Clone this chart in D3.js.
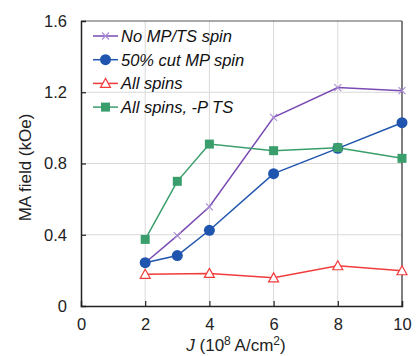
<!DOCTYPE html>
<html>
<head>
<meta charset="utf-8">
<script src="https://cdn.jsdelivr.net/npm/d3@7"></script>
<style>
  html, body { margin: 0; padding: 0; background: #fff; }
  svg { display: block; font-family: "Liberation Sans", Arial, sans-serif; }
</style>
</head>
<body>
<svg id="chart" width="416" height="356"></svg>
<script>
// Current density J (10^8 A/cm^2) at each measured point
const jNoSpin = [2, 3, 4, 6, 8, 10];
const noSpin = [0.243, 0.395, 0.557, 1.059, 1.226, 1.209];

const jHalfCut = [2, 3, 4, 6, 8, 10];
const halfCut = [0.243, 0.283, 0.425, 0.743, 0.885, 1.029];

const jAllSpins = [2, 4, 6, 8, 10];
const allSpins = [0.178, 0.183, 0.158, 0.226, 0.198];

const jAllSpinsP = [2, 3, 4, 6, 8, 10];
const allSpinsP = [0.374, 0.700, 0.909, 0.872, 0.889, 0.829];

const xTicks = [0, 2, 4, 6, 8, 10];
const yTicks = [0, 0.4, 0.8, 1.2, 1.6];

const seriesNames = ["No MP/TS spin", "50% cut MP spin", "All spins", "All spins, -P TS"];

const series = [
  { name: seriesNames[0], xs: jNoSpin, ys: noSpin, color: "#7A4BB3", marker: "cross" },
  { name: seriesNames[1], xs: jHalfCut, ys: halfCut, color: "#1F55AE", marker: "circle" },
  { name: seriesNames[2], xs: jAllSpins, ys: allSpins, color: "#F23B3B", marker: "triangle" },
  { name: seriesNames[3], xs: jAllSpinsP, ys: allSpinsP, color: "#3A9E6C", marker: "square" }
];

const svg = d3.select("#chart");
const plotL = 81, plotR = 402, plotT = 21, plotB = 306;

const x = d3.scaleLinear().domain([0, 10]).range([plotL, plotR]);
const y = d3.scaleLinear().domain([0, 1.6]).range([plotB, plotT]);

// Gridlines
const grid = svg.append("g");
grid.selectAll(".vg").data(xTicks.slice(1, -1)).join("line")
  .attr("x1", d => x(d)).attr("x2", d => x(d))
  .attr("y1", plotT).attr("y2", plotB)
  .attr("stroke", "#d9d9d9").attr("stroke-width", 1);
grid.selectAll(".hg").data(yTicks.slice(1, -1)).join("line")
  .attr("x1", plotL).attr("x2", plotR)
  .attr("y1", d => y(d)).attr("y2", d => y(d))
  .attr("stroke", "#d9d9d9").attr("stroke-width", 1);

// Frame (top / right)
svg.append("line").attr("x1", plotL).attr("x2", plotR).attr("y1", plotT).attr("y2", plotT)
  .attr("stroke", "#555").attr("stroke-width", 1.2);
svg.append("line").attr("x1", plotR).attr("x2", plotR).attr("y1", plotT).attr("y2", plotB)
  .attr("stroke", "#555").attr("stroke-width", 1.5);

// Axes with inward ticks
const xAxis = d3.axisBottom(x).tickValues(xTicks).tickSize(-5).tickPadding(12)
  .tickFormat(d3.format("d"));
const gx = svg.append("g").attr("transform", `translate(0,${plotB})`).call(xAxis);
const yAxis = d3.axisLeft(y).tickValues(yTicks).tickSize(-5).tickPadding(14)
  .tickFormat(d => d === 0 ? "0" : d3.format(".1f")(d));
const gy = svg.append("g").attr("transform", `translate(${plotL},0)`).call(yAxis);

[gx, gy].forEach(g => {
  g.select(".domain").attr("stroke", "#222").attr("stroke-width", 1.5);
  g.selectAll(".tick line").attr("stroke", "#222").attr("stroke-width", 1.2);
  g.selectAll(".tick text").attr("font-size", 16.5).attr("fill", "#222")
    .attr("font-family", "Liberation Sans, Arial, sans-serif");
});
gx.selectAll(".tick line").filter(d => d === 0 || d === 10).remove();
gy.selectAll(".tick line").filter(d => d === 0 || d === 1.6).remove();

// Axis titles
svg.append("text")
  .attr("transform", `translate(31,${(plotT + plotB) / 2 + 4}) rotate(-90)`)
  .attr("text-anchor", "middle").attr("font-size", 17).attr("fill", "#222")
  .text("MA field (kOe)");

const xt = svg.append("text")
  .attr("x", 236).attr("y", 351)
  .attr("text-anchor", "middle").attr("font-size", 17).attr("fill", "#222");
xt.append("tspan").attr("font-style", "italic").text("J");
xt.append("tspan").text(" (10");
xt.append("tspan").attr("font-size", 12).attr("dy", -6).text("8");
xt.append("tspan").attr("dy", 6).text(" A/cm");
xt.append("tspan").attr("font-size", 12).attr("dy", -6).text("2");
xt.append("tspan").attr("dy", 6).text(")");

// Marker drawing
function drawMarker(g, type, color, cx, cy) {
  if (type === "circle") {
    g.append("circle").attr("cx", cx).attr("cy", cy).attr("r", 5.5).attr("fill", color);
  } else if (type === "square") {
    g.append("rect").attr("x", cx - 4.5).attr("y", cy - 4.5).attr("width", 9).attr("height", 9)
      .attr("fill", color);
  } else if (type === "triangle") {
    g.append("path")
      .attr("d", `M${cx},${cy - 5} L${cx + 5},${cy + 4} L${cx - 5},${cy + 4} Z`)
      .attr("fill", "#fff").attr("stroke", color).attr("stroke-width", 1.2);
  } else if (type === "cross") {
    g.append("path")
      .attr("d", `M${cx - 3.5},${cy - 3.5} L${cx + 3.5},${cy + 3.5} M${cx - 3.5},${cy + 3.5} L${cx + 3.5},${cy - 3.5}`)
      .attr("stroke", "#A98BD6").attr("stroke-width", 1.1);
  }
}

const line = d3.line().x(d => x(d[0])).y(d => y(d[1]));

series.forEach(s => {
  const pts = s.xs.map((v, i) => [v, s.ys[i]]);
  const g = svg.append("g");
  g.append("path").datum(pts).attr("d", line)
    .attr("fill", "none").attr("stroke", s.color).attr("stroke-width", 1.5);
  pts.forEach(p => drawMarker(g, s.marker, s.color, x(p[0]), y(p[1])));
});

// Legend
const legend = svg.append("g");
series.forEach((s, i) => {
  const ly = 36 + i * 23.7;
  legend.append("line").attr("x1", 93).attr("x2", 118).attr("y1", ly).attr("y2", ly)
    .attr("stroke", s.color).attr("stroke-width", 1.5);
  drawMarker(legend, s.marker, s.color, 105.5, ly);
  legend.append("text").attr("x", 121).attr("y", ly + 6)
    .attr("font-size", 16.5).attr("font-style", "italic").attr("fill", "#111")
    .text(s.name);
});
</script>
</body>
</html>
